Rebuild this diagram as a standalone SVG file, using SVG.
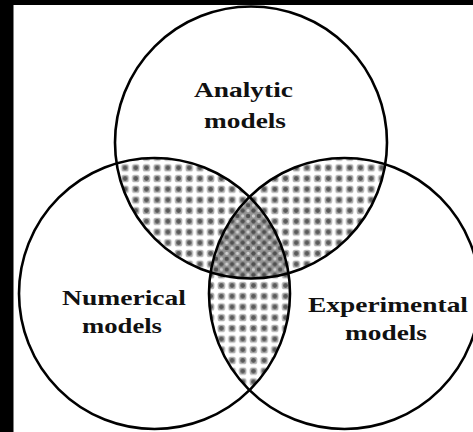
<svg xmlns="http://www.w3.org/2000/svg" width="473" height="432" viewBox="0 0 473 432">
  <style>
    .ring { fill: none; stroke: #000; stroke-width: 2.6; }
    .lbl { font-family: "Liberation Serif", "Times New Roman", serif; font-weight: bold; font-size: 22px; fill: #111; text-anchor: middle; }
  </style>
  <defs>
    <pattern id="dots" patternUnits="userSpaceOnUse" x="2" y="2" width="10.7" height="10.7">
      <rect width="10.7" height="10.7" fill="#fff"/>
      <rect x="1.6" y="1.6" width="7.5" height="7.5" rx="2.5" fill="#b0b0b0"/>
      <circle cx="5.35" cy="5.35" r="2.4" fill="#5a5a5a"/>
    </pattern>
    <pattern id="dense" patternUnits="userSpaceOnUse" x="2" y="2" width="10.7" height="10.7">
      <rect width="10.7" height="10.7" fill="#939393"/>
      <circle cx="5.35" cy="5.35" r="2.2" fill="#505050"/>
      <circle cx="0" cy="0" r="2.2" fill="#505050"/>
      <circle cx="10.7" cy="0" r="2.2" fill="#505050"/>
      <circle cx="0" cy="10.7" r="2.2" fill="#505050"/>
      <circle cx="10.7" cy="10.7" r="2.2" fill="#505050"/>
      <circle cx="5.35" cy="0" r="1.6" fill="#d0d0d0"/>
      <circle cx="0" cy="5.35" r="1.6" fill="#d0d0d0"/>
      <circle cx="10.7" cy="5.35" r="1.6" fill="#d0d0d0"/>
      <circle cx="5.35" cy="10.7" r="1.6" fill="#d0d0d0"/>
    </pattern>
    <clipPath id="cA"><circle cx="251" cy="142.5" r="136"/></clipPath>
    <clipPath id="cN"><circle cx="154.5" cy="293.5" r="135.5"/></clipPath>
    <clipPath id="cE"><circle cx="344.5" cy="293.5" r="135.5"/></clipPath>
  </defs>

  <rect x="0" y="0" width="473" height="432" fill="#000"/>
  <rect x="13.5" y="5" width="459.5" height="427" fill="#fff"/>

  <g id="overlaps">
    <g clip-path="url(#cA)"><circle cx="154.5" cy="293.5" r="135.5" fill="url(#dots)"/></g>
    <g clip-path="url(#cA)"><circle cx="344.5" cy="293.5" r="135.5" fill="url(#dots)"/></g>
    <g clip-path="url(#cN)"><circle cx="344.5" cy="293.5" r="135.5" fill="url(#dots)"/></g>
    <g clip-path="url(#cA)"><g clip-path="url(#cN)"><circle cx="344.5" cy="293.5" r="135.5" fill="url(#dense)"/></g></g>
  </g>

  <g id="analytic">
    <circle class="ring" cx="251" cy="142.5" r="136"/>
    <text class="lbl" x="243.5" y="97" textLength="99" lengthAdjust="spacingAndGlyphs">Analytic</text>
    <text class="lbl" x="245" y="128" textLength="82" lengthAdjust="spacingAndGlyphs">models</text>
  </g>

  <g id="numerical">
    <circle class="ring" cx="154.5" cy="293.5" r="135.5"/>
    <text class="lbl" x="124" y="305" textLength="124" lengthAdjust="spacingAndGlyphs">Numerical</text>
    <text class="lbl" x="122" y="333" textLength="80" lengthAdjust="spacingAndGlyphs">models</text>
  </g>

  <g id="experimental">
    <circle class="ring" cx="344.5" cy="293.5" r="135.5"/>
    <text class="lbl" x="388" y="312" textLength="160" lengthAdjust="spacingAndGlyphs">Experimental</text>
    <text class="lbl" x="386" y="340" textLength="82" lengthAdjust="spacingAndGlyphs">models</text>
  </g>
</svg>
